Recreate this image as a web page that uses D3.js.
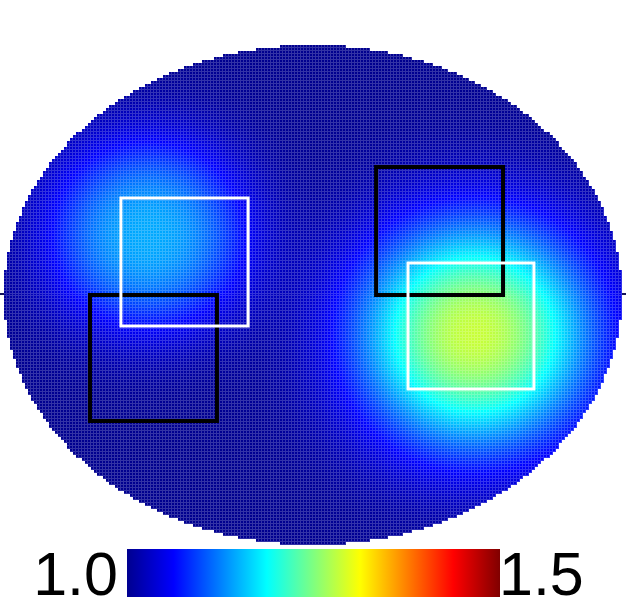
<!DOCTYPE html>
<html>
<head>
<meta charset="utf-8">
<script src="https://cdn.jsdelivr.net/npm/d3@7"></script>
<style>
  body { margin: 0; background: #fff; }
  #chart { position: relative; width: 626px; height: 604px; }
  #chart canvas, #chart svg { position: absolute; left: 0; top: 0; }
</style>
</head>
<body>
<div id="chart"></div>
<script>
// Field on an elliptical domain, sampled on a regular grid
const xExtent = [-1.2, 1.2];
const yExtent = [-1, 1];
const nCols = 206;
const nRows = 167;
const baseValue = 1.0;

// two bumps (centre, peak above base, radius, sharpness)
const blobX = [-0.64, 0.629];
const blobY = [0.24, -0.16];
const blobAmp = [0.145, 0.285];
const blobRadius = [0.40, 0.46];
const blobShape = [2.6, 2.2];

// overlay boxes (data units)
const boxX0 = [-0.866, 0.245, -0.746, 0.369];
const boxX1 = [-0.373, 0.738, -0.252, 0.858];
const boxY0 = [-0.504, 0.0, -0.124, -0.376];
const boxY1 = [0.0, 0.512, 0.388, 0.128];
const boxColor = ['#000', '#000', '#fff', '#fff'];

// colour bar
const colorDomain = [1.0, 1.5];
const colorTickLabels = ['1.0', '1.5'];
const jetStops = [0, 0.125, 0.375, 0.625, 0.875, 1];
const jetColors = ['#00008f', '#0000ff', '#00ffff', '#ffff00', '#ff0000', '#800000'];

const W = 626, H = 604;

const x = d3.scaleLinear().domain(xExtent).range([4, 622]);
const y = d3.scaleLinear().domain(yExtent).range([545, 45]);
const color = d3.scaleLinear()
    .domain(jetStops.map(t => colorDomain[0] + t * (colorDomain[1] - colorDomain[0])))
    .range(jetColors)
    .clamp(true);

const chart = d3.select('#chart');

// axis line behind the field (only its ends stick out)
const under = chart.append('svg').attr('width', W).attr('height', H);
under.append('line')
    .attr('x1', 0).attr('x2', W)
    .attr('y1', y(0) - 1).attr('y2', y(0) - 1)
    .attr('stroke', '#14145a')
    .attr('stroke-width', 2);

const canvas = chart.append('canvas').attr('width', W).attr('height', H).node();
const ctx = canvas.getContext('2d');

const dx = (xExtent[1] - xExtent[0]) / nCols;
const dy = (yExtent[1] - yExtent[0]) / nRows;
const a = xExtent[1], b = yExtent[1];
const gapMix = 0.2;

for (let j = 0; j < nRows; j++) {
    const y0 = yExtent[0] + j * dy, y1 = y0 + dy;
    const cy = (y0 + y1) / 2;
    const py0 = Math.round(y(y1)), py1 = Math.round(y(y0));
    for (let i = 0; i < nCols; i++) {
        const x0 = xExtent[0] + i * dx, x1 = x0 + dx;
        const cx = (x0 + x1) / 2;
        if ((cx / a) ** 2 + (cy / b) ** 2 > 1) continue;
        let v = baseValue;
        for (let k = 0; k < blobX.length; k++) {
            const r = Math.hypot(cx - blobX[k], cy - blobY[k]);
            v += blobAmp[k] * Math.exp(-Math.pow(r / blobRadius[k], blobShape[k]));
        }
        const c = color(v);
        const px0 = Math.round(x(x0)), px1 = Math.round(x(x1));
        ctx.fillStyle = c;
        ctx.fillRect(px0, py0, px1 - px0, py1 - py0);
        // pale seam on the right and bottom of each cell
        ctx.fillStyle = d3.interpolateRgb(c, '#fff')(gapMix);
        ctx.fillRect(px1 - 1, py0, 1, py1 - py0);
        ctx.fillRect(px0, py1 - 1, px1 - px0 - 1, 1);
    }
}

const svg = chart.append('svg').attr('width', W).attr('height', H);

// boxes
svg.selectAll('rect.box')
    .data(boxX0.map((d, i) => i))
    .join('rect')
    .attr('class', 'box')
    .attr('x', i => x(boxX0[i]))
    .attr('y', i => y(boxY1[i]))
    .attr('width', i => x(boxX1[i]) - x(boxX0[i]))
    .attr('height', i => y(boxY0[i]) - y(boxY1[i]))
    .attr('fill', 'none')
    .attr('stroke', i => boxColor[i])
    .attr('stroke-width', i => boxColor[i] === '#000' ? 4 : 3);

// colour bar
const barX = d3.scaleLinear().domain(colorDomain).range([127, 500]);
const barTop = 549, barH = 48;

const grad = svg.append('defs').append('linearGradient')
    .attr('id', 'jet')
    .attr('x1', '0%').attr('x2', '100%')
    .attr('y1', '0%').attr('y2', '0%');
grad.selectAll('stop')
    .data(jetStops)
    .join('stop')
    .attr('offset', d => (d * 100) + '%')
    .attr('stop-color', (d, i) => jetColors[i]);

svg.append('rect')
    .attr('x', barX(colorDomain[0]))
    .attr('y', barTop)
    .attr('width', barX(colorDomain[1]) - barX(colorDomain[0]))
    .attr('height', barH)
    .attr('fill', 'url(#jet)');

svg.selectAll('text.cb')
    .data(colorDomain)
    .join('text')
    .attr('class', 'cb')
    .attr('x', (d, i) => i === 0 ? barX(d) - 9 : barX(d) - 1)
    .attr('y', barTop + barH - 2)
    .attr('text-anchor', (d, i) => i === 0 ? 'end' : 'start')
    .attr('font-family', '"Liberation Sans", Arial, sans-serif')
    .attr('font-size', 61)
    .attr('fill', '#000')
    .text((d, i) => colorTickLabels[i]);
</script>
</body>
</html>
